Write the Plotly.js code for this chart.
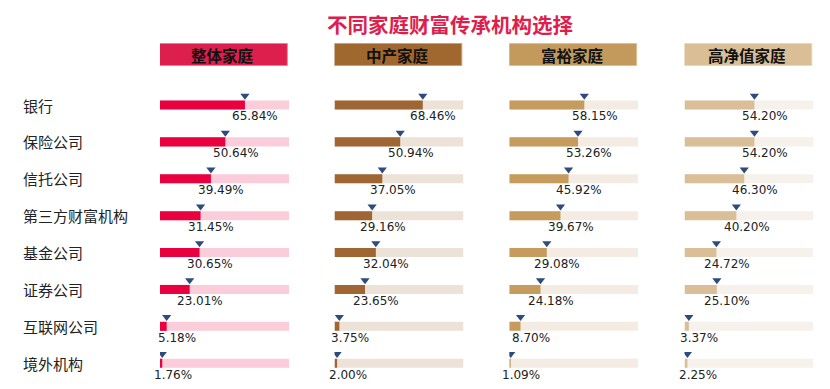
<!DOCTYPE html>
<html><head><meta charset="utf-8">
<script src="https://cdn.plot.ly/plotly-3.0.1.min.js"></script>
<style>html,body{margin:0;padding:0;background:#fff;}#chart{width:830px;height:389px;}</style>
</head><body><div id="chart"></div>
<script>
const title = '不同家庭财富传承机构选择';
const categories = ['银行','保险公司','信托公司','第三方财富机构','基金公司','证券公司','互联网公司','境外机构'];
const groups = ['整体家庭','中产家庭','富裕家庭','高净值家庭'];
const overall  = [65.84, 50.64, 39.49, 31.45, 30.65, 23.01, 5.18, 1.76];
const middle   = [68.46, 50.94, 37.05, 29.16, 32.04, 23.65, 3.75, 2.00];
const affluent = [58.15, 53.26, 45.92, 39.67, 29.08, 24.18, 8.70, 1.09];
const highNet  = [54.20, 54.20, 46.30, 40.20, 24.72, 25.10, 3.37, 2.25];
const series = [overall, middle, affluent, highNet];

const W = 830, H = 389;
const headerFill = ['#DC1F4C', '#A0672F', '#C49A5C', '#DABE95'];
const headerLine = ['#F07A98', '#C9A07A', '#DDBF92', '#EAD8BE'];
const fgColor = ['#E9003E', '#9F6532', '#C59B5E', '#DABE97'];
const bgColor = ['#FBCDDA', '#EDE2D7', '#F4ECE2', '#F6F1EA'];
const triColor = '#2D4B7C';
const panelStart = [160, 334.5, 509.3, 684.5];
const panelWidth = 129;

// y pixel mapping: row 0 at 105px, step 36.89px
const step = 36.89, row0 = 105;
const yTop = -row0 / step, yBot = (H - row0) / step;
const idx = categories.map((c, i) => i);

const traces = [];
const layout = {
  width: W, height: H,
  margin: {l: 0, r: 0, t: 0, b: 0},
  paper_bgcolor: '#fff', plot_bgcolor: 'rgba(0,0,0,0)',
  showlegend: false, barmode: 'overlay',
  font: {family: '"Noto Sans CJK SC", "Noto Sans", sans-serif', color: '#222'},
  yaxis: {range: [yBot, yTop], visible: false, fixedrange: true},
  shapes: [], annotations: []
};

series.forEach((vals, k) => {
  const ax = k === 0 ? '' : String(k + 1);
  const xa = 'x' + ax;
  layout['xaxis' + ax] = {
    domain: [panelStart[k] / W, (panelStart[k] + panelWidth) / W],
    range: [0, 100], visible: false, fixedrange: true, anchor: 'y'
  };
  traces.push({
    type: 'bar', orientation: 'h', xaxis: xa, yaxis: 'y',
    y: idx, x: idx.map(() => 100), width: 0.245,
    marker: {color: bgColor[k]}, hoverinfo: 'skip'
  });
  traces.push({
    type: 'bar', orientation: 'h', xaxis: xa, yaxis: 'y',
    y: idx, x: vals, width: 0.245,
    marker: {color: fgColor[k]}
  });
  traces.push({
    type: 'scatter', mode: 'markers', xaxis: xa, yaxis: 'y',
    y: idx.map(i => i - 0.25), x: vals,
    marker: {symbol: 'triangle-down', size: 8, color: triColor}
  });
  vals.forEach((v, i) => {
    layout.annotations.push({
      xref: xa, yref: 'y', x: v, y: i + 0.31, xanchor: 'center', yanchor: 'middle',
      xshift: 10.5, showarrow: false, text: v.toFixed(2) + '%',
      font: {family: '"DejaVu Sans", sans-serif', size: 12, color: '#222'}
    });
  });
  // header box
  layout.shapes.push({
    type: 'rect', xref: xa, yref: 'y', x0: -1.3, x1: 98.7,
    y0: (43.5 - row0) / step, y1: (65.5 - row0) / step,
    fillcolor: headerFill[k], line: {color: headerLine[k], width: 1}, layer: 'above'
  });
  layout.annotations.push({
    xref: xa, yref: 'y', x: 48.7, y: (54.5 - row0) / step, showarrow: false,
    text: '<b>' + groups[k] + '</b>', font: {size: 15.5, color: '#111'}
  });
});

categories.forEach((c, i) => {
  layout.annotations.push({
    xref: 'paper', yref: 'y', x: 21 / W, y: i, xanchor: 'left', yanchor: 'middle',
    showarrow: false, text: c, font: {size: 15, color: '#222'}
  });
});

layout.annotations.push({
  xref: 'paper', yref: 'y', x: 450 / W, y: (24 - row0) / step, showarrow: false,
  text: '<b>' + title + '</b>', font: {size: 20.5, color: '#DE1F4E'}
});

Plotly.newPlot('chart', traces, layout, {displayModeBar: false, staticPlot: true});
</script></body></html>
